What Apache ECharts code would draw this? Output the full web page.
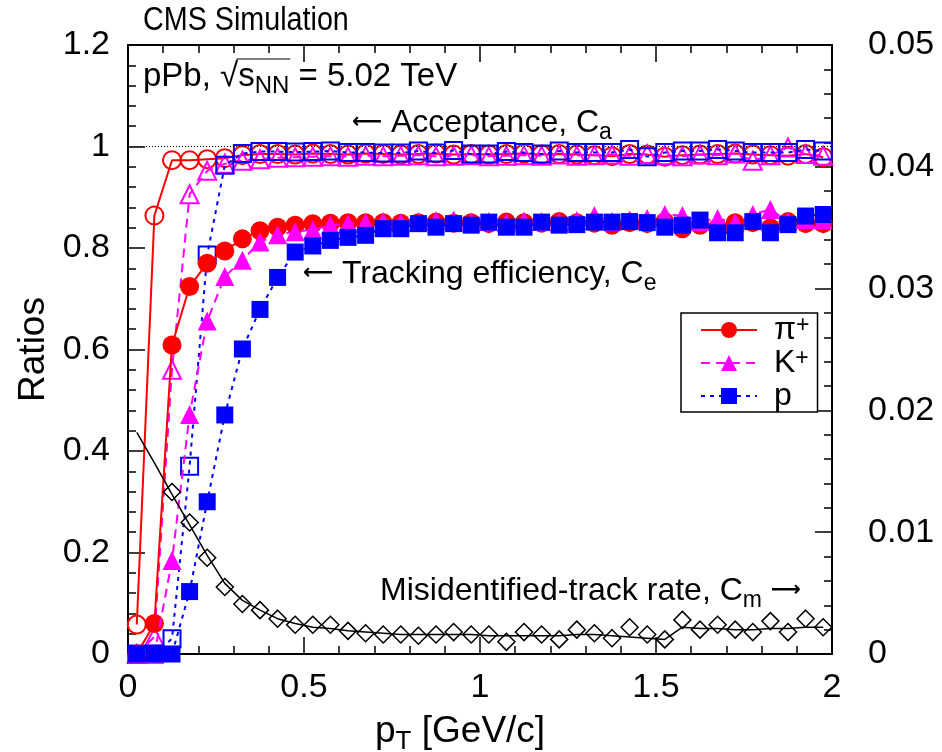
<!DOCTYPE html>
<html>
<head>
<meta charset="utf-8">
<script src="https://cdn.jsdelivr.net/npm/echarts@6/dist/echarts.min.js"></script>
<style>html,body{margin:0;padding:0;background:#fff;}#c{width:942px;height:752px;}</style>
</head>
<body>
<div id="c"></div>
<script>
const pT = [0.025,0.075,0.125,0.175,0.225,0.275,0.325,0.375,0.425,0.475,0.525,0.575,0.625,0.675,0.725,0.775,0.825,0.875,0.925,0.975,1.025,1.075,1.125,1.175,1.225,1.275,1.325,1.375,1.425,1.475,1.525,1.575,1.625,1.675,1.725,1.775,1.825,1.875,1.925,1.975];
const piAcc = [0.058,0.864,0.973,0.973,0.975,0.977,0.983,0.985,0.985,0.984,0.986,0.985,0.984,0.986,0.985,0.984,0.985,0.986,0.984,0.985,0.984,0.985,0.986,0.984,0.985,0.984,0.983,0.981,0.985,0.984,0.980,0.983,0.984,0.985,0.986,0.984,0.983,0.982,0.985,0.979];
const kAcc = [0,0.034,0.560,0.906,0.952,0.966,0.972,0.975,0.978,0.979,0.980,0.981,0.980,0.982,0.981,0.982,0.983,0.981,0.982,0.983,0.981,0.982,0.983,0.982,0.984,0.982,0.983,0.984,0.982,0.985,0.983,0.981,0.984,0.983,0.986,0.972,0.983,0.998,0.985,0.982];
const pAcc = [0,0,0.030,0.370,0.786,0.963,0.986,0.990,0.990,0.989,0.990,0.991,0.988,0.988,0.987,0.987,0.991,0.987,0.992,0.985,0.985,0.990,0.988,0.985,0.991,0.988,0.988,0.988,0.994,0.980,0.988,0.991,0.991,0.994,0.991,0.988,0.988,0.988,0.994,0.991];
const piEff = [0,0.060,0.609,0.724,0.770,0.794,0.818,0.834,0.841,0.845,0.848,0.849,0.850,0.850,0.850,0.849,0.850,0.851,0.849,0.850,0.848,0.851,0.850,0.849,0.852,0.850,0.849,0.845,0.850,0.848,0.852,0.838,0.845,0.840,0.850,0.850,0.840,0.852,0.848,0.848];
const kEff = [0,0,0.184,0.472,0.656,0.744,0.776,0.812,0.826,0.832,0.836,0.845,0.848,0.850,0.852,0.850,0.852,0.854,0.855,0.851,0.852,0.850,0.853,0.852,0.851,0.854,0.864,0.852,0.855,0.858,0.866,0.864,0.852,0.858,0.850,0.866,0.876,0.852,0.856,0.855];
const pEff = [0,0,0,0.123,0.300,0.471,0.601,0.679,0.742,0.792,0.804,0.815,0.821,0.825,0.838,0.838,0.848,0.841,0.848,0.845,0.851,0.841,0.841,0.851,0.845,0.846,0.851,0.851,0.852,0.850,0.841,0.845,0.855,0.830,0.830,0.852,0.830,0.846,0.863,0.866];
const misRate = [null,null,0.0133,0.0108,0.0079,0.0055,0.0041,0.0036,0.0029,0.0024,0.0024,0.0024,0.0019,0.0017,0.0016,0.0016,0.0015,0.0016,0.0018,0.0016,0.0016,0.0010,0.0018,0.0016,0.0012,0.0020,0.0017,0.0013,0.0022,0.0016,0.0012,0.0028,0.0020,0.0024,0.0020,0.0018,0.0027,0.0018,0.0029,0.0022];
const misFit = [0.0182,0.0157,0.0131,0.0106,0.0081,0.0058,0.0044,0.0036,0.0029,0.0025,0.0022,0.0021,0.0019,0.0018,0.0017,0.0016,0.0016,0.0016,0.0016,0.0016,0.0015,0.0015,0.0015,0.0015,0.0015,0.0016,0.0016,0.0015,0.0014,0.0013,0.0012,0.0022,0.0021,0.0021,0.0020,0.0020,0.0021,0.0021,0.0022,0.0022];
const xTicks = {min: 0, max: 2, interval: 0.5};
const yLeftTicks = {min: 0, max: 1.2, interval: 0.2};
const yRightTicks = {min: 0, max: 0.05, interval: 0.01};

const FONT = "'Liberation Sans', Arial, Helvetica, sans-serif";
const ARROWFONT = "'DejaVu Sans', 'Liberation Sans', sans-serif";
const RED = '#ff0000', MAG = '#ff00ff', BLUE = '#0000ff';
const pts = arr => pT.map((x, i) => [x, arr[i]]);

const mctx = document.createElement('canvas').getContext('2d');
function tw(str, size, fam) { mctx.font = size + 'px ' + (fam || FONT); return mctx.measureText(str).width; }

const TXT = 32, SUB = 23;
function richStyle(size) {
  return {
    n: {fontSize: size, fontFamily: FONT, fill: '#000', color: '#000', lineHeight: 42},
    sub: {fontSize: SUB, fontFamily: FONT, fill: '#000', color: '#000', verticalAlign: 'bottom', lineHeight: 24},
    ar: {fontSize: 21, fontFamily: ARROWFONT, fill: '#000', color: '#000', lineHeight: 42, fontWeight: 'bold'}
  };
}

const chart = echarts.init(document.getElementById('c'), null, {renderer: 'canvas'});

const tickStyle = {show: true, inside: true, length: 17, lineStyle: {color: '#000', width: 1.5}};
const minorStyle = {show: true, splitNumber: 5, length: 8, lineStyle: {color: '#000', width: 1.5}};
const lineAxis = {show: true, onZero: false, lineStyle: {color: '#000', width: 2}};
const LBL = 34;

function xAx(pos, showLabel) {
  return {
    type: 'value', position: pos, min: xTicks.min, max: xTicks.max, interval: xTicks.interval,
    axisLine: lineAxis, axisTick: tickStyle, minorTick: minorStyle, splitLine: {show: false},
    axisLabel: {show: showLabel, fontSize: LBL, color: '#000', fontFamily: FONT, margin: 17}
  };
}

const gx = 143, gy = 77, PPB = 33, PPBSUB = 24;
const wPre = tw('pPb, √', PPB);
const wS = tw('s', PPB) + tw('NN', PPBSUB);

const option = {
  backgroundColor: '#fff',
  animation: false,
  grid: {left: 128, right: 110, top: 45, bottom: 98, containLabel: false, outerBoundsMode: 'none'},
  xAxis: [xAx('bottom', true), xAx('top', false)],
  yAxis: [
    {
      type: 'value', position: 'left', min: yLeftTicks.min, max: yLeftTicks.max, interval: yLeftTicks.interval,
      axisLine: lineAxis, axisTick: tickStyle, minorTick: minorStyle, splitLine: {show: false},
      axisLabel: {fontSize: LBL, color: '#000', fontFamily: FONT, margin: 18},
      name: 'Ratios', nameLocation: 'middle', nameGap: 74,
      nameTextStyle: {fontSize: 37, color: '#000', fontFamily: FONT}
    },
    {
      type: 'value', position: 'right', min: yRightTicks.min, max: yRightTicks.max, interval: yRightTicks.interval,
      axisLine: lineAxis, axisTick: tickStyle, minorTick: minorStyle, splitLine: {show: false},
      axisLabel: {fontSize: LBL, color: '#000', fontFamily: FONT, margin: 36}
    }
  ],
  legend: {
    orient: 'vertical', left: 681, top: 313,
    data: ['pi', 'K', 'p'],
    itemWidth: 56, itemHeight: 20, itemGap: 1,
    backgroundColor: '#fff', borderColor: '#000', borderWidth: 1.5, borderRadius: 0,
    padding: [1, 8, 0, 19],
    formatter: name => ({pi: '{n|π}{s|+}', K: '{n|K}{s|+}', p: '{n|p}'}[name]),
    textStyle: {color: '#000', fontFamily: FONT, rich: {
      n: {fontSize: 32, fontFamily: FONT, color: '#000', lineHeight: 32, padding: [0, 0, 0, 12]},
      s: {fontSize: 23, fontFamily: FONT, color: '#000', verticalAlign: 'top', lineHeight: 18}
    }},
    selectedMode: false
  },
  series: [
    {
      name: 'piAcc', type: 'line', data: pts(piAcc), symbol: 'circle', symbolSize: 18,
      itemStyle: {color: 'rgba(0,0,0,0)', borderColor: RED, borderWidth: 2},
      lineStyle: {color: RED, width: 2, type: 'solid'},
      markLine: {silent: true, symbol: 'none', label: {show: false},
        lineStyle: {color: '#000', width: 1, type: [1, 2]}, data: [{yAxis: 1}]},
      z: 2
    },
    {
      name: 'kAcc', type: 'line', data: pts(kAcc), symbol: 'triangle', symbolSize: 18,
      itemStyle: {color: 'rgba(0,0,0,0)', borderColor: MAG, borderWidth: 2},
      lineStyle: {color: MAG, width: 2, type: [9, 6]}, z: 3
    },
    {
      name: 'pAcc', type: 'line', data: pts(pAcc), symbol: 'rect', symbolSize: 17,
      itemStyle: {color: 'rgba(0,0,0,0)', borderColor: BLUE, borderWidth: 2},
      lineStyle: {color: BLUE, width: 2, type: [4, 5]}, z: 4
    },
    {
      name: 'pi', type: 'line', data: pts(piEff), symbol: 'circle', symbolSize: 19,
      itemStyle: {color: RED}, lineStyle: {color: RED, width: 2, type: 'solid'}, z: 5
    },
    {
      name: 'K', type: 'line', data: pts(kEff), symbol: 'triangle', symbolSize: 19,
      itemStyle: {color: MAG}, lineStyle: {color: MAG, width: 2, type: [9, 6]}, z: 6
    },
    {
      name: 'p', type: 'line', data: pts(pEff), symbol: 'rect', symbolSize: 17,
      itemStyle: {color: BLUE}, lineStyle: {color: BLUE, width: 2, type: [4, 5]}, z: 7
    },
    {
      name: 'misFit', type: 'line', yAxisIndex: 1, data: pts(misFit), symbol: 'none',
      lineStyle: {color: '#000', width: 1.5}, z: 8
    },
    {
      name: 'mis', type: 'line', yAxisIndex: 1, data: pts(misRate), symbol: 'diamond', symbolSize: 17,
      itemStyle: {color: 'rgba(0,0,0,0)', borderColor: '#000', borderWidth: 1.5},
      lineStyle: {width: 0, opacity: 0}, connectNulls: false, z: 9
    }
  ],
  graphic: [
    {type: 'text', x: 143, y: 21, scaleX: 0.87, z: 100, style: {text: 'CMS Simulation', fontSize: 33, fontFamily: FONT, fill: '#000', verticalAlign: 'middle'}},
    {type: 'text', x: gx, y: gy, z: 100, style: {
      text: '{n|pPb, √s}{sub|NN}{n| = 5.02 TeV}', verticalAlign: 'middle', fill: '#000', rich: {
        n: {fontSize: PPB, fontFamily: FONT, fill: '#000', lineHeight: 42},
        sub: {fontSize: PPBSUB, fontFamily: FONT, fill: '#000', verticalAlign: 'bottom', lineHeight: 24}
      }
    }},
    {type: 'line', z: 100, shape: {x1: gx + wPre - 2, y1: gy - 18, x2: gx + wPre + wS + 1, y2: gy - 18}, style: {stroke: '#000', lineWidth: 1.2}},
    {type: 'text', x: 352, y: 123, z: 100, style: {
      text: '{ar|⟵}{n| Acceptance, C}{sub|a}', verticalAlign: 'middle', fill: '#000', rich: richStyle(TXT)
    }},
    {type: 'text', x: 303, y: 274, z: 100, style: {
      text: '{ar|⟵}{n| Tracking efficiency, C}{sub|e}', verticalAlign: 'middle', fill: '#000', rich: richStyle(TXT)
    }},
    {type: 'text', x: 380, y: 591, z: 100, style: {
      text: '{n|Misidentified-track rate, C}{sub|m}{n| }{ar|⟶}', verticalAlign: 'middle', fill: '#000', rich: richStyle(TXT)
    }},
    {type: 'text', x: 375, y: 732, z: 100, style: {
      text: '{n|p}{sub|T}{n| [GeV/c]}', verticalAlign: 'middle', fill: '#000', rich: {
        n: {fontSize: 37, fontFamily: FONT, fill: '#000', lineHeight: 46},
        sub: {fontSize: 26, fontFamily: FONT, fill: '#000', verticalAlign: 'bottom', lineHeight: 28}
      }
    }}
  ]
};
chart.setOption(option);
</script>
</body>
</html>
